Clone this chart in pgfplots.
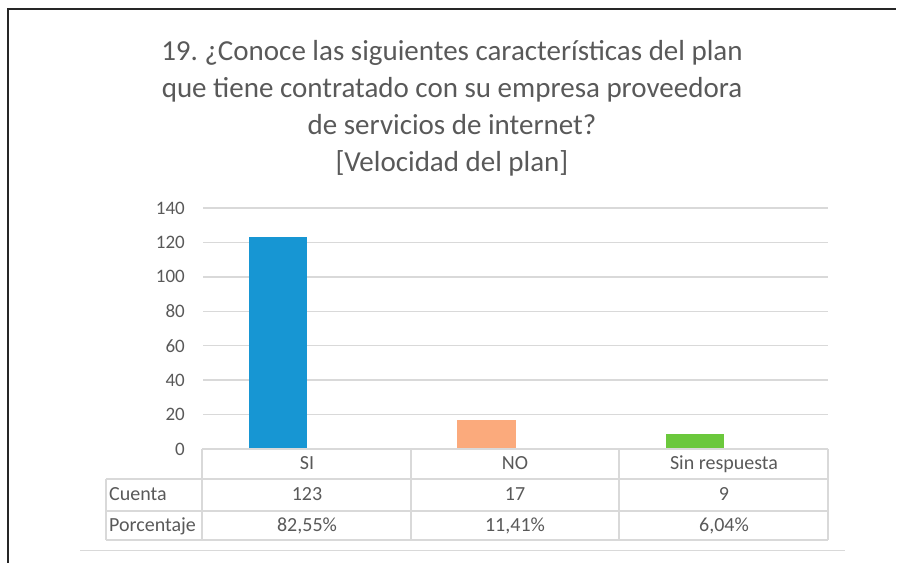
\documentclass[border=0pt]{standalone}
\usepackage{pgfplots}
\pgfplotsset{compat=1.18}
\usepackage{fontspec}
\setmainfont{Carlito}

\definecolor{txtgray}{HTML}{595959}
\definecolor{gridgray}{HTML}{D9D9D9}
\definecolor{barblue}{HTML}{1796D3}
\definecolor{barorange}{HTML}{FBAA7C}
\definecolor{bargreen}{HTML}{6BC83C}

\begin{document}
\begin{tikzpicture}[x=1pt,y=1pt]
% page frame
\path (0,0) rectangle (897,563);
\draw[line width=2pt, black!85] (8,0) -- (8,554) -- (896,554);

% title
\begin{scope}[every node/.style={anchor=base, text=txtgray, inner sep=0pt, font=\fontsize{29}{35}\selectfont}]
\node at (452,502) {19.\ ¿Conoce las siguientes características del plan};
\node at (452,465) {que tiene contratado con su empresa proveedora};
\node at (452,428) {de servicios de internet?};
\node at (452,391) {[Velocidad del plan]};
\end{scope}

\begin{axis}[
  at={(203pt,114pt)}, anchor=south west,
  scale only axis, width=625pt, height=241pt,
  xmin=-0.5, xmax=2.5, ymin=0, ymax=140,
  ytick={0,20,...,140}, xtick=\empty,
  axis line style={draw=none},
  major tick length=0pt,
  ymajorgrids, grid style={color=gridgray, line width=1.5pt},
  yticklabel style={font=\fontsize{19}{21}\selectfont, text=txtgray, inner sep=0pt, xshift=-18pt},
  /pgf/number format/assume math mode=true,
  ybar, bar width=0.28, bar shift=-0.14,
  clip=false,
]
\addplot[ybar, bar shift=-0.14, bar width=0.28, fill=barblue, draw=none] coordinates {(0,123)};
\addplot[ybar, bar shift=-0.14, bar width=0.28, fill=barorange, draw=none] coordinates {(1,17)};
\addplot[ybar, bar shift=-0.14, bar width=0.28, fill=bargreen, draw=none] coordinates {(2,9)};
\end{axis}

% data table
\begin{scope}[gridgray, line width=1.3pt]
\draw (202,114) -- (828,114);
\draw (106,84) -- (828,84);
\draw (106,52) -- (828,52);
\draw (106,23) -- (828,23);
\draw (106,84) -- (106,23);
\draw (202,114) -- (202,23);
\draw (411,114) -- (411,23);
\draw (619,114) -- (619,23);
\draw (828,114) -- (828,23);
\end{scope}
\draw[gridgray, line width=1pt] (80,12) -- (845,12);

\begin{scope}[every node/.style={anchor=base, text=txtgray, inner sep=0pt, font=\fontsize{20}{23}\selectfont}]
\node at (307,93) {SI};
\node at (515,93) {NO};
\node at (724,93) {Sin respuesta};
\node[anchor=base west] at (109,62) {Cuenta};
\node at (307,62) {123};
\node at (515,62) {17};
\node at (724,62) {9};
\node[anchor=base west] at (109,31) {Porcentaje};
\node at (307,31) {82,55\%};
\node at (515,31) {11,41\%};
\node at (724,31) {6,04\%};
\end{scope}
\end{tikzpicture}
\end{document}
